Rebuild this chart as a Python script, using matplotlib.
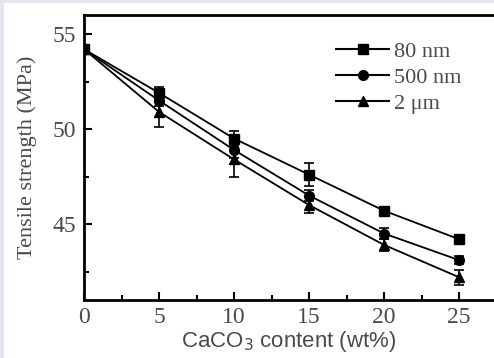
import matplotlib
matplotlib.use("Agg")
import matplotlib.pyplot as plt
from matplotlib.patches import Rectangle
from matplotlib.lines import Line2D
from matplotlib.ticker import MultipleLocator

x = [0, 5, 10, 15, 20, 25]
s80 = [54.2, 51.9, 49.5, 47.6, 45.7, 44.2]
e80 = [0.0, 0.3, 0.4, 0.6, 0.1, 0.1]
s500 = [54.2, 51.5, 48.9, 46.5, 44.5, 43.1]
e500 = [0.0, 0.3, 0.4, 0.3, 0.3, 0.2]
s2 = [54.2, 50.9, 48.4, 46.0, 43.9, 42.2]
e2 = [0.0, 0.8, 0.9, 0.4, 0.3, 0.4]
labels = ["80 nm", "500 nm", "2 μm"]
markers = ["s", "o", "^"]

fig = plt.figure(figsize=(4.94, 3.58), dpi=100)
fig.patch.set_facecolor("#ebe3f0")
fig.patches.append(Rectangle((4/494, 0), 1, 1 - 3/358, transform=fig.transFigure,
                             facecolor="white", edgecolor="none", zorder=-10))

ax = fig.add_axes([84/494, 58/358, 1 - 84/494, (300-15)/358])
ax.set_facecolor("none")
ax.set_zorder(5)

txtc = "#4a4a4a"
handles = []
for ys, es, mk, lab in zip([s80, s500, s2], [e80, e500, e2], markers, labels):
    ax.errorbar(x, ys, yerr=es, color="black", marker=mk, ms=7, lw=1.3,
                elinewidth=1.2, capsize=3.5, capthick=1.2)
    handles.append(Line2D([], [], color="black", marker=mk, ms=7, lw=1.5, label=lab))

ax.set_xlim(0, 410/15)
ax.set_ylim(41, 56)
ax.xaxis.set_major_locator(MultipleLocator(5))
ax.xaxis.set_minor_locator(MultipleLocator(2.5))
ax.yaxis.set_major_locator(MultipleLocator(5))
ax.yaxis.set_minor_locator(MultipleLocator(2.5))
ax.tick_params(which="both", direction="in", width=1.5, colors="black",
               labelcolor=txtc, top=False, right=False)
ax.tick_params(which="major", length=6, pad=6)
ax.tick_params(axis="x", which="major", pad=5)
ax.tick_params(which="minor", length=3.5)
for lbl in ax.get_xticklabels() + ax.get_yticklabels():
    lbl.set_fontfamily("Liberation Serif")
    lbl.set_fontsize(17)
ax.spines["right"].set_visible(False)
for sp in ["left", "bottom", "top"]:
    ax.spines[sp].set_linewidth(2)

ax.set_ylabel("Tensile strength (MPa)", fontfamily="Liberation Serif", fontsize=16,
              color=txtc, labelpad=11)
ax.set_xlabel("CaCO$_3$ content (wt%)", fontfamily="Liberation Sans", fontsize=16,
              color=txtc, labelpad=1)

leg = ax.legend(handles=handles, loc="upper left", bbox_to_anchor=(243/410, 0.94),
                frameon=False, prop={"family": "Liberation Serif", "size": 16},
                handlelength=2.4, handletextpad=0.2, labelspacing=0.25,
                labelcolor=txtc, borderaxespad=0)

fig.savefig("out.png", dpi=100, facecolor=fig.get_facecolor())
